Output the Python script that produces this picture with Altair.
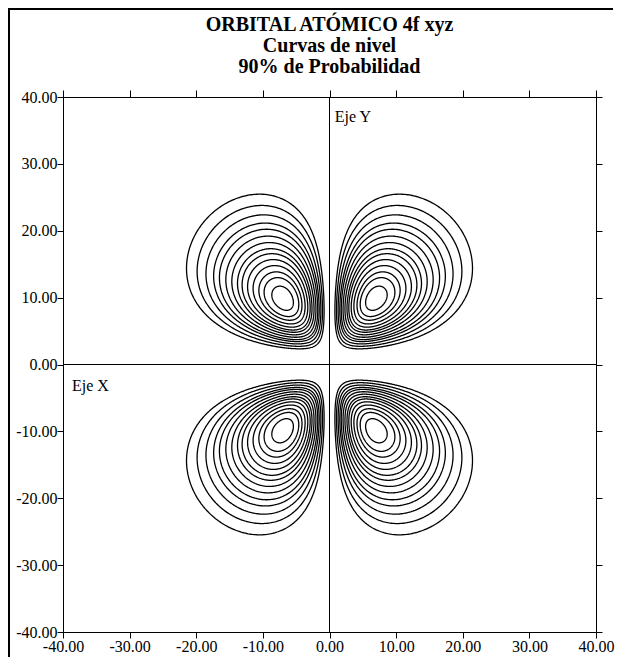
import numpy as np
import pandas as pd
import altair as alt

# Contour levels, as fractions of the peak value of |psi|
niveles = [0.21, 0.27, 0.33, 0.39, 0.44, 0.50, 0.56, 0.62, 0.67, 0.73, 0.79, 0.85, 0.90, 0.96]
# Sign of (x, y) for each of the four lobes
lobulos = [(1, 1), (-1, 1), (-1, -1), (1, -1)]
marcas = [-40, -30, -20, -10, 0, 10, 20, 30, 40]
titulo = ["ORBITAL ATÓMICO 4f xyz", "Curvas de nivel", "90% de Probabilidad"]
rotulos_texto = ["Eje Y", "Eje X"]
rotulos_x = [0.8, -38.65]
rotulos_y = [36.3, -3.9]

FUENTE = "Liberation Serif"
ANCHO, ALTO = 533, 535


def psi(x, v):
    """4f xyz orbital on the plane y = z (radial part r^3 e^{-r/4}, a0 = 1)."""
    r = np.sqrt(x ** 2 + v ** 2)
    return np.abs(x) * v ** 2 * np.exp(-r / 4.0)


# maximum of the lobe: r = 12, cos(theta) = 1/sqrt(3)
cx, cy = 12.0 / np.sqrt(3.0), 12.0 * np.sqrt(2.0 / 3.0)
pmax = psi(cx, cy)

# trace each level along rays leaving the maximum of the lobe
ang = np.deg2rad(np.arange(0.0, 360.0, 0.75))
paso = 0.01
rad = np.arange(0.0, 40.0, paso)
RX = cx + np.outer(np.cos(ang), rad)
RY = cy + np.outer(np.sin(ang), rad)
F = psi(RX, RY) / pmax
fila = np.arange(len(ang))

registros = []
for k, nivel in enumerate(niveles):
    idx = (F < nivel).argmax(axis=1)
    f0 = F[fila, idx - 1]
    f1 = F[fila, idx]
    rr = rad[idx - 1] + (f0 - nivel) / (f0 - f1) * paso
    px = np.append(cx + np.cos(ang) * rr, cx + rr[0])
    py = np.append(cy + np.sin(ang) * rr, cy)
    for j, (sx, sy) in enumerate(lobulos):
        for o, (a, b) in enumerate(zip(px, py)):
            registros.append({"x": round(sx * a, 3), "y": round(sy * b, 3),
                              "c": f"{j}-{k}", "o": o})

curvas = pd.DataFrame(registros)
rotulos = pd.DataFrame({"x": rotulos_x, "y": rotulos_y, "t": rotulos_texto})
origen = pd.DataFrame({"v": [0]})

esc_x = alt.Scale(domain=[-40, 40], nice=False, zero=False)
esc_y = alt.Scale(domain=[-40, 40], nice=False, zero=False)
etiqueta = "replace(format(datum.value, '.2f'), '\u2212', '-')"

comun = dict(values=marcas, title=None, grid=False, labelFont=FUENTE, labelFontSize=16,
             labelColor="black", tickColor="black", domainColor="black", tickWidth=1,
             domainWidth=1, labelFlush=False, labelOverlap=False)

eje_inf = alt.Axis(orient="bottom", labelExpr=etiqueta, tickSize=6, labelPadding=0, **comun)
eje_izq = alt.Axis(orient="left", labelExpr=etiqueta, tickSize=6, labelPadding=0, **comun)
eje_sup = alt.Axis(orient="top", labels=False, tickSize=7, **comun)
eje_der = alt.Axis(orient="right", labels=False, tickSize=6, **comun)

contornos = alt.Chart(curvas).mark_line(color="black", strokeWidth=1.3).encode(
    x=alt.X("x:Q", scale=esc_x, axis=eje_inf),
    y=alt.Y("y:Q", scale=esc_y, axis=eje_izq),
    detail="c:N",
    order="o:Q",
)

eje_vertical = alt.Chart(origen).mark_rule(color="black", strokeWidth=1).encode(
    x=alt.X("v:Q", scale=esc_x, axis=eje_sup)
)
eje_horizontal = alt.Chart(origen).mark_rule(color="black", strokeWidth=1).encode(
    y=alt.Y("v:Q", scale=esc_y, axis=eje_der)
)

textos = alt.Chart(rotulos).mark_text(
    align="left", baseline="alphabetic", font=FUENTE, fontSize=16, color="black"
).encode(
    x=alt.X("x:Q", scale=esc_x, axis=None),
    y=alt.Y("y:Q", scale=esc_y, axis=None),
    text="t:N",
)

# three-line heading centred over the plot, one text mark per line
encabezado = [
    alt.Chart(pd.DataFrame({"t": [linea]})).mark_text(
        align="center", baseline="alphabetic", font=FUENTE, fontSize=20,
        fontWeight="bold", color="black",
    ).encode(x=alt.value(ANCHO / 2), y=alt.value(-66 + 21 * i), text="t:N")
    for i, linea in enumerate(titulo)
]

# page frame
marco_izq = alt.Chart(origen).mark_rule(color="black", strokeWidth=2).encode(
    x=alt.value(-54), y=alt.value(-88), y2=alt.value(560)
)
marco_sup = alt.Chart(origen).mark_rule(color="black", strokeWidth=2).encode(
    x=alt.value(-55), x2=alt.value(550), y=alt.value(-88)
)

chart = alt.layer(
    contornos, eje_vertical, eje_horizontal, textos, *encabezado, marco_izq, marco_sup
).resolve_axis(
    x="independent", y="independent"
).properties(
    width=ANCHO,
    height=ALTO,
    padding={"left": 63, "top": 97, "right": 22, "bottom": 25},
    autosize=alt.AutoSizeParams(type="none"),
).configure_view(stroke=None).configure(background="white")

chart.save("out.html", embed_options={"renderer": "svg", "actions": False})
